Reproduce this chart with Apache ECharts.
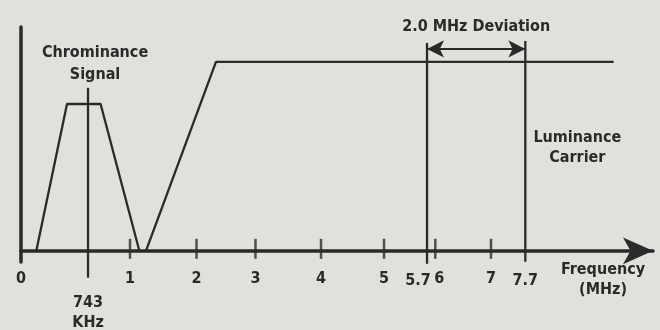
<!DOCTYPE html>
<html>
<head>
<meta charset="utf-8">
<script src="https://cdn.jsdelivr.net/npm/echarts@6/dist/echarts.min.js"></script>
<style>
  html, body { margin: 0; padding: 0; background: #e2e0db; }
  #main { width: 660px; height: 330px; }
</style>
</head>
<body>
<div id="main"></div>
<script>
// the frequency axis is a schematic one: where each labelled frequency sits along it
const axisFreqs = [0, 0.743, 1, 2, 3, 4, 5, 5.7, 6, 7, 7.7];
const axisPos = [0, 1.117, 1.817, 2.925, 3.908, 5.0, 6.05, 6.767, 6.905, 7.833, 8.405];

const tickFreqs = [1, 2, 3, 4, 5, 6, 7];
const labelFreqs = [0, 1, 2, 3, 4, 5, 6, 7, 5.7, 7.7, 0.743];
const labelTexts = ['0', '1', '2', '3', '4', '5', '6', '7', '5.7', '7.7', '743\nKHz'];

// chrominance band (MHz, relative level)
const chromaFreq = [0.17, 0.51, 0.82, 1.14];
const chromaLevel = [0, 65.6, 65.6, 0];
const chromaCenter = 0.743;
const chromaCenterLevel = [-12, 72.8];

// luminance FM band
const lumaFreq = [1.24, 2.33, 9.5];
const lumaLevel = [0, 84.4, 84.4];

// deviation limits
const devFreq = [5.7, 7.7];
const devTop = [92.9, 93.75];
const devBottom = [-5.8, -4.9];
const devArrowLevel = 90.2;
const carrierTextLevel = 46;

const ink = '#2a2a2a';
const font = "'DejaVu Sans Condensed', 'Liberation Sans Narrow', sans-serif";
const fs = 16;
const fw = 'bold';

function pos(f) {
  let i = 0;
  while (i < axisFreqs.length - 2 && f > axisFreqs[i + 1]) i++;
  const t = (f - axisFreqs[i]) / (axisFreqs[i + 1] - axisFreqs[i]);
  return axisPos[i] + t * (axisPos[i + 1] - axisPos[i]);
}

function labelFor(v) {
  for (let i = 0; i < labelFreqs.length; i++) {
    if (Math.abs(pos(labelFreqs[i]) - v) < 1e-6) {
      const s = labelTexts[i];
      if (s === '5.7') return '{l|5.7}';
      if (s === '6') return '{r|6}';
      if (s === '7.7') return '{d|7.7}';
      if (s.indexOf('\n') >= 0) {
        return '{e| }\n' + s.split('\n').map(p => '{k|' + p + '}').join('\n');
      }
      return s;
    }
  }
  return '';
}

var chartDom = document.getElementById('main');
var myChart = echarts.init(chartDom);

const txt = { fontFamily: font, fontSize: fs, fontWeight: fw, color: ink };

const lineBase = {
  type: 'line',
  symbol: 'none',
  clip: false,
  silent: true,
  animation: false,
  lineStyle: { color: ink, width: 2.3 }
};

var option = {
  backgroundColor: '#e2e0db',
  textStyle: { fontFamily: font, color: ink },
  grid: { left: 21, right: 7, top: 27, bottom: 68, outerBoundsMode: 'none' },
  xAxis: {
    type: 'value',
    min: 0,
    max: 10.533,
    name: 'Frequency\n(MHz)',
    nameLocation: 'end',
    nameGap: -50,
    nameTextStyle: Object.assign({}, txt, {
      align: 'center', verticalAlign: 'top', lineHeight: 20, padding: [9, 0, 0, 0]
    }),
    axisLine: {
      onZero: true,
      symbol: ['none', 'arrow'],
      symbolSize: [20, 30],
      lineStyle: { color: ink, width: 3.5 }
    },
    axisTick: { show: false },
    splitLine: { show: false },
    axisLabel: Object.assign({}, txt, {
      customValues: labelFreqs.map(pos),
      formatter: labelFor,
      lineHeight: 20,
      margin: 7,
      rich: {
        l: Object.assign({}, txt, { padding: [4, 18, 0, 0] }),
        r: Object.assign({}, txt, { padding: [0, 0, 0, 8] }),
        d: Object.assign({}, txt, { padding: [4, 0, 0, 0] }),
        e: { height: 24, lineHeight: 24 },
        k: Object.assign({}, txt, { lineHeight: 20 })
      }
    })
  },
  yAxis: {
    type: 'value',
    min: -5,
    max: 100,
    axisLine: { show: true, onZero: true, lineStyle: { color: ink, width: 3.5 } },
    axisTick: { show: false },
    axisLabel: { show: false },
    splitLine: { show: false }
  },
  series: [
    Object.assign({}, lineBase, {
      name: 'Chrominance',
      data: chromaFreq.map((f, i) => [pos(f), chromaLevel[i]])
    }),
    Object.assign({}, lineBase, {
      name: 'Chrominance center',
      data: chromaCenterLevel.map(v => [pos(chromaCenter), v]),
      markPoint: {
        silent: true,
        symbol: 'circle',
        symbolSize: 1,
        itemStyle: { color: 'transparent' },
        label: Object.assign({}, txt, {
          show: true, position: 'top', distance: 2, offset: [7, 0],
          lineHeight: 22, formatter: 'Chrominance\nSignal'
        }),
        data: [{ coord: [pos(chromaCenter), chromaCenterLevel[1]] }]
      }
    }),
    Object.assign({}, lineBase, {
      name: 'Luminance',
      data: lumaFreq.map((f, i) => [pos(f), lumaLevel[i]])
    }),
    Object.assign({}, lineBase, {
      name: 'Deviation low',
      data: [[pos(devFreq[0]), devBottom[0]], [pos(devFreq[0]), devTop[0]]],
      markLine: {
        silent: true,
        animation: false,
        symbol: ['arrow', 'arrow'],
        symbolSize: [13, 17],
        lineStyle: { type: 'solid', color: ink, width: 2 },
        label: Object.assign({}, txt, {
          show: true, position: 'middle', distance: 14,
          formatter: '2.0 MHz Deviation'
        }),
        data: [[
          { coord: [pos(devFreq[0]), devArrowLevel] },
          { coord: [pos(devFreq[1]), devArrowLevel] }
        ]]
      }
    }),
    Object.assign({}, lineBase, {
      name: 'Deviation high',
      data: [[pos(devFreq[1]), devBottom[1]], [pos(devFreq[1]), devTop[1]]],
      markPoint: {
        silent: true,
        symbol: 'circle',
        symbolSize: 1,
        itemStyle: { color: 'transparent' },
        label: Object.assign({}, txt, {
          show: true, position: 'inside', offset: [52, 0],
          lineHeight: 20, formatter: 'Luminance\nCarrier'
        }),
        data: [{ coord: [pos(devFreq[1]), carrierTextLevel] }]
      }
    }),
    {
      name: 'Ticks',
      type: 'scatter',
      silent: true,
      animation: false,
      clip: false,
      symbol: 'rect',
      symbolSize: [2.5, 20],
      symbolOffset: [0, -2],
      itemStyle: { color: ink },
      data: tickFreqs.map(f => [pos(f), 0])
    }
  ]
};

option && myChart.setOption(option);
</script>
</body>
</html>
